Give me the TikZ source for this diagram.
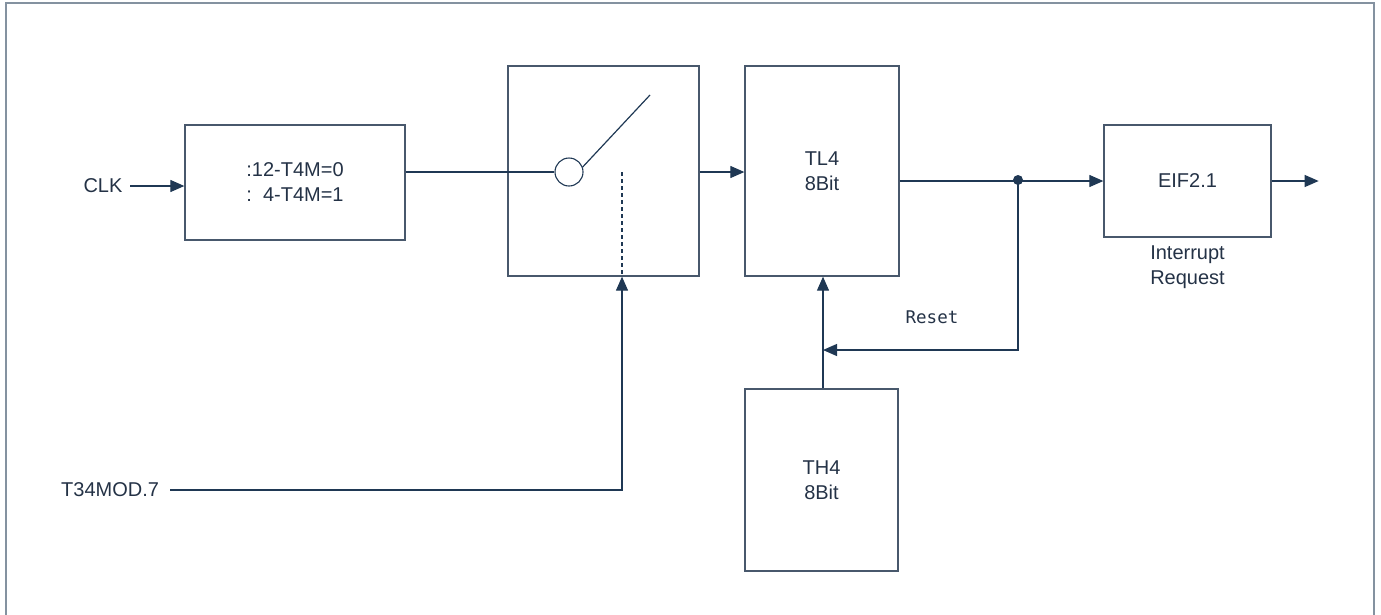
\documentclass[tikz,border=0pt]{standalone}
\usepackage{fontspec}
\setmainfont{Liberation Sans}
\newfontfamily\monofont{DejaVu Sans Mono}
\usetikzlibrary{arrows.meta}
\definecolor{wireblue}{RGB}{31,56,84}
\definecolor{boxgray}{RGB}{72,88,108}
\definecolor{framegray}{RGB}{132,146,160}
\definecolor{labelblue}{RGB}{36,50,70}

\begin{document}
\begin{tikzpicture}[x=1pt,y=1pt,yscale=-1,
  blk/.style={draw=boxgray,line width=1.3pt,inner sep=0pt,align=center,text=labelblue,
    font=\fontsize{20}{25}\selectfont},
  txt/.style={inner sep=0.75pt,text=labelblue,font=\fontsize{20}{25}\selectfont,align=center},
  wire/.style={draw=wireblue,line width=1.2pt},
  arr/.style={wire,-{Triangle[length=14pt,width=12pt]}}]
\useasboundingbox (0,0) rectangle (1381,614);

%Frame
\draw [framegray,line width=2pt] (6,3) rectangle (1374,640);

%Shape: Blocks
\node [blk,minimum width=220,minimum height=115] (div) at (295,182.5) {:12-T4M=0\\:\ \ 4-T4M=1};
\node [blk,minimum width=191,minimum height=210] (sw) at (603.5,171) {};
\node [blk,minimum width=154,minimum height=210] (tl4) at (822,171) {TL4\\8Bit};
\node [blk,minimum width=153,minimum height=182] (th4) at (821.5,480) {TH4\\8Bit};
\node [blk,minimum width=167,minimum height=112] (eif) at (1187.5,181) {EIF2.1};

%Switch
\node [draw=wireblue,line width=1.1pt,circle,minimum size=28,inner sep=0pt] (pivot) at (569,172) {};
\coordinate (tip) at (650,95);
\coordinate (contact) at (622,172);
\draw [wire] (pivot.20) -- (tip);
\draw [wire,dash pattern={on 4pt off 3pt}] (contact) -- (contact |- sw.south);

% Text Node
\node [txt] (clk) at (103,186) {CLK};
\node [txt,anchor=east] (mod) at (160,490) {T34MOD.7};
\node [txt,anchor=north] (irq) at ([yshift=7]eif.south) {Interrupt\\Request};
\node [inner sep=0.75pt,text=labelblue,font=\monofont\fontsize{17.5}{20}\selectfont] (rstlbl) at (932,317) {Reset};

%Connectors
\coordinate (node) at (1018,180);
\coordinate (rst) at (823,350);
\draw [arr] (clk.east) ++(7,0) -- (clk.east -| div.west);
\draw [wire] (div.east |- pivot) -- (pivot.west);
\draw [arr] (sw.east |- pivot) -- (pivot -| tl4.west);
\draw [arr] (tl4.east |- eif) -- (eif.west);
\draw [arr] (eif.east) -- ++(47,0) coordinate (out);
\draw [arr] (node) -- (node |- rst) -- (rst);
\draw [arr] (th4.north -| rst) -- (tl4.south -| rst);
\draw [arr] (mod.east) ++(10,0) -| (contact |- sw.south);
\fill [wireblue] (node) circle (5);

\end{tikzpicture}
\end{document}
